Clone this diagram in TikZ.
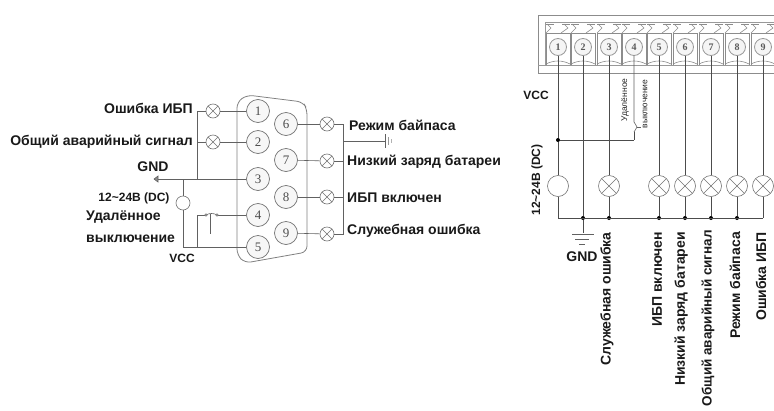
\documentclass[tikz,border=0pt]{standalone}
\usepackage{fontspec}
\setmainfont{Liberation Sans}
\newfontfamily\pinfont{Liberation Serif}
\usepackage{tikz}
\tikzset{
	wire/.style={line width=0.6pt, color=black!62},
	darkwire/.style={line width=0.8pt, color=black!70},
	pin/.style={circle, draw=black!55, fill=black!3, line width=0.7pt, minimum size=23pt, inner sep=0pt, font=\fontsize{13}{13}\selectfont\pinfont, text=black!70},
	port/.style={circle, draw=black!40, fill=black!4, line width=0.8pt, minimum size=17pt, inner sep=0pt, font=\fontsize{10}{10}\selectfont\pinfont\bfseries, text=black!65},
	lamp/.style={circle, draw=black!55, line width=0.6pt, minimum size=#1, inner sep=0pt, path picture={
		\draw[black!55, line width=0.6pt] (path picture bounding box.center) ++(-#1/2,-#1/2) -- ++(#1,#1);
		\draw[black!55, line width=0.6pt] (path picture bounding box.center) ++(-#1/2,#1/2) -- ++(#1,-#1);}},
	source/.style={circle, draw=black!55, line width=0.6pt, minimum size=#1, inner sep=0pt},
	dot/.style={circle, fill=black, inner sep=0pt, minimum size=4pt},
	caption/.style={inner sep=0pt, font=\fontsize{14}{14}\selectfont\bfseries, text=black!90},
	smallcaption/.style={inner sep=0pt, font=\fontsize{12}{12}\selectfont\bfseries, text=black!90},
	tiny/.style={inner sep=0pt, font=\fontsize{8.5}{8.5}\selectfont, text=black!85}
}
\def\terminalcell(#1){
	\draw[black!45, line width=0.6pt] (#1-12, 65) -- (#1-12, 33) -- (#1+12, 33) -- (#1+12, 65);
	\draw[black!45, line width=0.6pt] (#1-12, 33) -- (#1-7, 28) -- (#1-11, 24) (#1+6, 24) -- (#1+10, 28) -- (#1+3, 33);
	\draw[black!45, line width=0.6pt] (#1-12, 24) -- (#1-4, 24) (#1+4, 24) -- (#1+12, 24);
	\draw[black!45, line width=0.6pt] (#1-12, 64) .. controls (#1-4, 60) and (#1+4, 60) .. (#1+12, 64);
}

\begin{document}
\begin{tikzpicture}[x=1pt, y=-1pt]
		\useasboundingbox (0, 0) rectangle (774, 410);
		%%%%% DB9 %%%%%
		
		\draw[line width=0.8pt, color=black!50, rounded corners=6pt] (247, 95) -- (303, 102) -- (307, 109) -- (307, 252) -- (245, 263) -- (237, 255) -- (237, 102) -- cycle;
		
		\node[pin] (pinA) at (258, 111) {1};
		\node[pin] (pinB) at (258, 142) {2};
		\node[pin] (pinC) at (258, 179) {3};
		\node[pin] (pinD) at (258, 215) {4};
		\node[pin] (pinE) at (258, 247) {5};
		\node[pin] (pinF) at (286, 124) {6};
		\node[pin] (pinG) at (286, 160) {7};
		\node[pin] (pinH) at (286, 197) {8};
		\node[pin] (pinI) at (286, 233) {9};
		
		\node[lamp=14pt] (lampA) at (213, 111) {};
		\node[lamp=14pt] (lampB) at (213, 142) {};
		\node[lamp=14pt] (lampF) at (327, 124) {};
		\node[lamp=14pt] (lampG) at (327, 161) {};
		\node[lamp=14pt] (lampH) at (327, 197) {};
		\node[lamp=14pt] (lampI) at (327, 234) {};
		\node[source=14pt] (supply) at (183, 203) {};
		
		\coordinate (busLeftA) at (197, 111);
		\coordinate (busLeftB) at (197, 142);
		\coordinate (busLeftC) at (197, 179);
		\coordinate (gndLeft) at (158, 179);
		\coordinate (supplyTop) at (183, 179);
		\coordinate (supplyEnd) at (183, 247);
		\coordinate (keyEnd) at (197, 247);
		\coordinate (keyLeft) at (206, 215);
		\coordinate (keyRight) at (217, 215);
		\coordinate (busRightF) at (343, 124);
		\coordinate (busRightG) at (343, 161);
		\coordinate (busRightH) at (343, 197);
		\coordinate (busRightI) at (343, 234);
		\coordinate (busRightGnd) at (343, 141);
		\coordinate (gndRight) at (385, 141);
		
		\draw[wire] (lampA) -- (pinA);
		\draw[wire] (lampB) -- (pinB);
		\draw[wire] (gndLeft) -- (pinC);
		\draw[wire] (lampA) -- (busLeftA) -- (busLeftC);
		\draw[wire] (lampB) -- (busLeftB);
		\draw[wire] (supplyTop) -- (supply) -- (supplyEnd) -- (pinE);
		\draw[wire] (keyEnd) |- (keyLeft);
		\draw[wire] (keyRight) -- (pinD);
		\draw[wire] (keyLeft) .. controls (209, 213) and (214, 213) .. (keyRight);
		\draw[wire] (210.5, 214) -- (210.5, 234);
		\draw[wire, fill=white] (keyLeft) circle (1.3);
		\draw[wire, fill=white] (keyRight) circle (1.3);
		\draw[wire, fill=black!45] (158, 176) -- (158, 182) -- (154, 179) -- cycle;
		
		\draw[wire] (pinF) -- (lampF);
		\draw[wire] (pinG) -- (lampG);
		\draw[wire] (pinH) -- (lampH);
		\draw[wire] (pinI) -- (lampI);
		\draw[wire] (lampF) -- (busRightF) -- (busRightI) -- (lampI);
		\draw[wire] (lampG) -- (busRightG);
		\draw[wire] (lampH) -- (busRightH);
		\draw[wire] (busRightGnd) -- (gndRight);
		\draw[wire] (385, 134) -- (385, 148);
		\draw[wire, color=black!40] (388, 137) -- (388, 145);
		\draw[wire, color=black!30] (391, 139) -- (391, 143);
		
		\node[caption, anchor=east] (capA) at (193, 108) {Ошибка ИБП};
		\node[caption, anchor=east] (capB) at (193, 142) {Общий аварийный сигнал};
		\node[caption] (capGnd) at (153, 167) {GND};
		\node[smallcaption] (capDc) at (134, 198) {12\textasciitilde24В (DC)};
		\node[caption, anchor=west] (capKeyA) at (86, 217) {Удалённое};
		\node[caption, anchor=west] (capKeyB) at (86, 239) {выключение};
		\node[smallcaption] (capVcc) at (182, 258) {VCC};
		\node[caption, anchor=west] (capF) at (349, 125) {Режим байпаса};
		\node[caption, anchor=west] (capG) at (347, 162) {Низкий заряд батареи};
		\node[caption, anchor=west] (capH) at (347, 198) {ИБП включен};
		\node[caption, anchor=west] (capI) at (347, 231) {Служебная ошибка};
		
		%%%%% TERMINAL BLOCK %%%%%
		
		\draw[line width=1pt, color=black!45] (790, 15) -- (538, 15) -- (538, 73) -- (790, 73);
		\draw[line width=0.7pt, color=black!40] (790, 22) -- (545, 22) -- (545, 65);
		\draw[line width=0.7pt, color=black!40] (538, 65) -- (790, 65);
		
		\terminalcell(558);
		\terminalcell(583);
		\terminalcell(609);
		\terminalcell(634);
		\terminalcell(659);
		\terminalcell(685);
		\terminalcell(711);
		\terminalcell(737);
		\terminalcell(763);
		
		\node[port] (portA) at (558, 47) {1};
		\node[port] (portB) at (583, 47) {2};
		\node[port] (portC) at (609, 47) {3};
		\node[port] (portD) at (634, 47) {4};
		\node[port] (portE) at (659, 47) {5};
		\node[port] (portF) at (685, 47) {6};
		\node[port] (portG) at (711, 47) {7};
		\node[port] (portH) at (737, 47) {8};
		\node[port] (portI) at (763, 47) {9};
		
		\node[source=21pt] (sourceA) at (558, 186) {};
		\node[lamp=21pt] (bulbC) at (609, 186) {};
		\node[lamp=21pt] (bulbE) at (659, 186) {};
		\node[lamp=21pt] (bulbF) at (685, 186) {};
		\node[lamp=21pt] (bulbG) at (711, 186) {};
		\node[lamp=21pt] (bulbH) at (737, 186) {};
		\node[lamp=21pt] (bulbI) at (763, 186) {};
		
		\node[dot] (feedA) at (558, 140) {};
		\node[dot] (railB) at (583, 218) {};
		\node[dot] (railC) at (609, 218) {};
		\node[dot] (railE) at (659, 218) {};
		\node[dot] (railF) at (685, 218) {};
		\node[dot] (railG) at (711, 218) {};
		\node[dot] (railH) at (737, 218) {};
		\coordinate (railA) at (558, 218);
		\coordinate (railI) at (763, 218);
		\coordinate (feedD) at (634, 140);
		\coordinate (earth) at (583, 233);
		\coordinate (keyTop) at (634, 122);
		\coordinate (keyMid) at (637, 127);
		\coordinate (keyStub) at (641, 127);
		\coordinate (keyLow) at (634, 132);
		
		\draw[darkwire] (portA) -- (feedA) -- (sourceA) -- (railA);
		\draw[darkwire] (portB) -- (railB);
		\draw[darkwire] (railB) -- (earth);
		\draw[darkwire] (portC) -- (bulbC);
		\draw[darkwire] (bulbC) -- (railC);
		\draw[wire] (portD) -- (keyTop) -- (keyMid) -- (keyLow);
		\draw[wire] (keyMid) -- (keyStub);
		\draw[darkwire] (keyLow) -- (feedD);
		\draw[darkwire] (feedA) -- (feedD);
		\draw[darkwire] (portE) -- (bulbE);
		\draw[darkwire] (portF) -- (bulbF);
		\draw[darkwire] (portG) -- (bulbG);
		\draw[darkwire] (portH) -- (bulbH);
		\draw[darkwire] (portI) -- (bulbI);
		\draw[darkwire] (bulbE) -- (railE);
		\draw[darkwire] (bulbF) -- (railF);
		\draw[darkwire] (bulbG) -- (railG);
		\draw[darkwire] (bulbH) -- (railH);
		\draw[darkwire] (bulbI) -- (railI);
		\draw[darkwire] (railA) -- (railI);
		
		\draw[wire] (572, 234) -- (594, 234);
		\draw[wire] (575, 239) -- (589, 239);
		\draw[wire] (579, 244) -- (585, 244);
		
		\node[smallcaption] (capVccB) at (536, 95) {VCC};
		\node[caption] (capGndB) at (582, 257) {GND};
		\node[smallcaption, rotate=90] (capDcB) at (537, 180) {12\textasciitilde24В (DC)};
		\node[tiny, rotate=90] (capKeyC) at (625, 100) {Удалённое};
		\node[tiny, rotate=90] (capKeyD) at (645, 104) {выключение};
		\node[caption, rotate=90, anchor=east] (capIB) at (607, 232) {Служебная ошибка};
		\node[caption, rotate=90, anchor=east] (capHB) at (657, 232) {ИБП включен};
		\node[caption, rotate=90, anchor=east] (capGB) at (681, 232) {Низкий заряд батареи};
		\node[caption, rotate=90, anchor=east, font=\fontsize{13.5}{13.5}\selectfont\bfseries] (capBB) at (708, 230) {Общий аварийный сигнал};
		\node[caption, rotate=90, anchor=east] (capFB) at (735, 232) {Режим байпаса};
		\node[caption, rotate=90, anchor=east] (capAB) at (761, 232) {Ошибка ИБП};
		
		%%%%% END %%%%%
	\end{tikzpicture}
\end{document}
